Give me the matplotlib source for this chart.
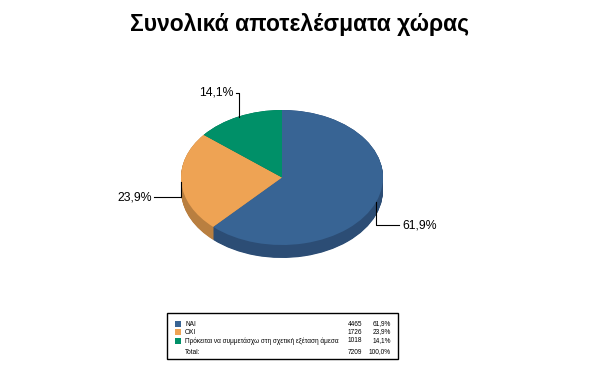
import numpy as np
import matplotlib.pyplot as plt

# Δεδομένα
labels = ["ΝΑΙ", "ΟΧΙ", "Πρόκειται να συμμετάσχω στη σχετική εξέταση άμεσα"]
values = [4465, 1726, 1018]
colors = ["#386494", "#eea354", "#009068"]
side_colors = ["#2c4d75", "#b97f40", "#006e50"]
title = "Συνολικά αποτελέσματα χώρας"

total = sum(values)
pct = [v / total * 100 for v in values]


def fmt(p):
    return f"{p:.1f}".replace(".", ",") + "%"


plt.rcParams["font.family"] = ["Liberation Sans", "DejaVu Sans"]

W, H = 606, 365
fig = plt.figure(figsize=(W / 100, H / 100), dpi=100)

# Γεωμετρία πίτας σε pixels
cx, cy = 282, 177.5
rx, ry = 101, 67.5
depth = 13
d = depth / ry

ax = fig.add_axes([(cx - rx) / W, (H - (cy + ry + depth)) / H,
                   2 * rx / W, (2 * ry + depth) / H])
# πλαϊνό (3D)
for k in np.linspace(d, 0, 25):
    ax.pie(values, colors=side_colors, startangle=90, counterclock=False,
           center=(0, -k), wedgeprops=dict(linewidth=0))
ax.pie(values, colors=colors, startangle=90, counterclock=False,
       wedgeprops=dict(linewidth=0))
ax.set_aspect("auto")
ax.set_xlim(-1, 1)
ax.set_ylim(-1 - d, 1)
ax.axis("off")

# Overlay σε pixel συντεταγμένες
ov = fig.add_axes([0, 0, 1, 1], facecolor="none")
ov.set_xlim(0, W)
ov.set_ylim(H, 0)
ov.axis("off")

ov.text(W / 2 - 3, 25, title, ha="center", va="center",
        fontsize=16.5, fontweight="bold")

# Ετικέτες ποσοστών με γραμμές
offsets = [(23, 23, "left"), (-27, 15, "right"), (-3, -24, "right")]
start = 90
for p, (dx, dy, ha) in zip(pct, offsets):
    mid = np.radians(start - p * 1.8)
    start -= p * 3.6
    ax_x = cx + rx * np.cos(mid)
    ax_y = cy - ry * np.sin(mid)
    ov.plot([ax_x, ax_x, ax_x + dx], [ax_y, ax_y + dy, ax_y + dy],
            color="black", lw=0.8)
    tx = ax_x + dx + (3 if ha == "left" else -2)
    ov.text(tx, ax_y + dy, fmt(p), ha=ha, va="center", fontsize=8.8)

# Υπόμνημα
ov.add_patch(plt.Rectangle((167, 313), 231, 46, fill=False,
                           edgecolor="black", lw=1))
rows_y = [324, 332, 341, 352]
fs = 4.7
for i in range(3):
    ov.add_patch(plt.Rectangle((175, rows_y[i] - 3), 6, 6, color=colors[i], lw=0))
    ov.text(185, rows_y[i], labels[i], ha="left", va="center", fontsize=fs)
    ov.text(362, rows_y[i], str(values[i]), ha="right", va="center", fontsize=fs)
    ov.text(391, rows_y[i], fmt(pct[i]), ha="right", va="center", fontsize=fs)
ov.text(185, rows_y[3], "Total:", ha="left", va="center", fontsize=fs)
ov.text(362, rows_y[3], str(total), ha="right", va="center", fontsize=fs)
ov.text(391, rows_y[3], "100,0%", ha="right", va="center", fontsize=fs)

fig.savefig("out.png", dpi=100)
